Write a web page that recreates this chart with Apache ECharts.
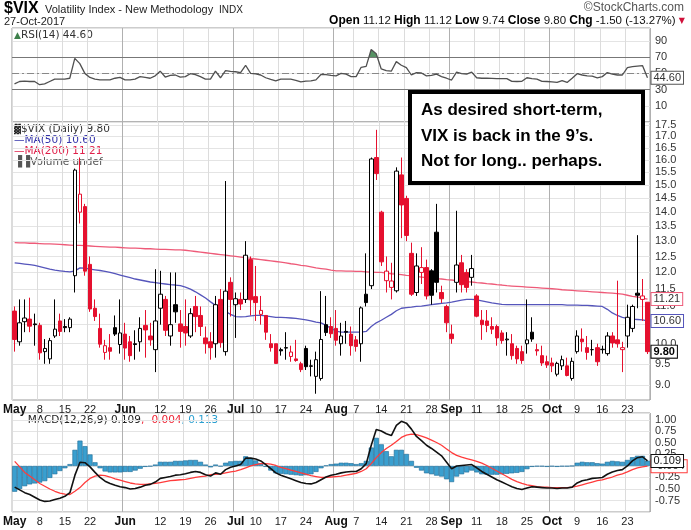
<!DOCTYPE html>
<html><head><meta charset="utf-8">
<script src="https://cdn.jsdelivr.net/npm/echarts@6/dist/echarts.min.js"></script>
<style>html,body{margin:0;padding:0;background:#fff}#c{width:691px;height:530px}</style>
</head><body><div id="c"></div>
<script>
// ---- data ----
const dates = [
 '05-01','05-02','05-03','05-04','05-05','05-08','05-09','05-10','05-11','05-12','05-15','05-16','05-17','05-18','05-19','05-22','05-23','05-24','05-25','05-26','05-30','05-31',
 '06-01','06-02','06-05','06-06','06-07','06-08','06-09','06-12','06-13','06-14','06-15','06-16','06-19','06-20','06-21','06-22','06-23','06-26','06-27','06-28','06-29','06-30',
 '07-03','07-05','07-06','07-07','07-10','07-11','07-12','07-13','07-14','07-17','07-18','07-19','07-20','07-21','07-24','07-25','07-26','07-27','07-28','07-31',
 '08-01','08-02','08-03','08-04','08-07','08-08','08-09','08-10','08-11','08-14','08-15','08-16','08-17','08-18','08-21','08-22','08-23','08-24','08-25','08-28','08-29','08-30','08-31',
 '09-01','09-05','09-06','09-07','09-08','09-11','09-12','09-13','09-14','09-15','09-18','09-19','09-20','09-21','09-22','09-25','09-26','09-27','09-28','09-29',
 '10-02','10-03','10-04','10-05','10-06','10-09','10-10','10-11','10-12','10-13','10-16','10-17','10-18','10-19','10-20','10-23','10-24','10-25','10-26','10-27'];
const opens = [10.87,10.05,10.58,10.65,10.52,10.48,9.80,9.62,10.20,10.60,
 10.45,10.42,11.90,14.00,14.20,12.25,10.95,10.40,9.78,9.90,
 10.42,9.98,10.25,10.05,10.00,10.05,10.48,10.20,9.85,10.95,
 11.20,10.20,11.05,10.52,10.45,10.20,11.00,10.75,10.15,10.05,
 10.00,11.20,9.80,11.70,11.05,11.20,11.20,12.40,11.28,10.78,
 10.75,10.00,10.00,9.85,9.90,9.68,9.62,9.50,9.88,9.45,
 9.20,9.15,10.50,10.45,10.40,10.00,10.32,10.25,10.10,10.00,
 11.35,11.60,16.10,14.00,11.75,11.55,11.45,15.40,14.50,12.60,
 11.40,12.00,12.15,12.05,13.30,11.40,11.00,10.25,11.70,12.30,
 12.00,11.85,11.30,10.62,10.60,10.45,10.45,10.28,10.10,10.00,
 9.88,9.80,10.00,10.30,9.85,9.70,9.55,9.52,9.25,9.45,
 9.45,9.15,9.80,10.12,9.90,9.85,9.90,9.85,9.75,10.20,
 10.10,9.85,10.20,10.40,11.38,11.20,11.12];
const highs = [11.00,11.20,11.20,11.25,10.80,10.55,10.12,10.15,11.20,10.80,
 10.65,10.70,15.65,16.10,14.30,12.50,11.20,10.80,10.10,10.25,
 10.75,11.20,10.55,10.20,10.35,10.70,10.90,10.55,12.10,12.05,
 11.30,12.00,12.00,10.90,11.20,10.95,11.30,11.00,10.45,10.30,
 11.30,11.50,15.16,11.85,11.40,11.40,13.00,12.50,12.20,11.30,
 10.75,10.25,10.00,9.90,10.30,9.95,10.10,9.55,9.95,9.60,
 9.80,11.44,11.30,10.70,10.90,10.55,10.60,10.45,10.20,11.00,
 12.60,16.10,17.28,14.05,12.50,12.30,15.70,16.10,14.60,12.95,
 12.60,12.80,12.40,12.10,14.30,11.60,11.05,10.50,14.05,12.55,
 12.10,12.55,11.35,10.90,10.90,10.70,10.50,10.35,10.30,10.25,
 9.95,9.95,11.20,10.70,10.00,9.95,9.70,9.65,9.55,9.70,
 9.65,9.65,10.35,10.40,10.20,10.10,10.00,9.95,10.30,10.30,
 11.75,10.05,11.05,11.05,13.20,11.80,11.12];
const lows = [9.80,9.95,10.30,10.30,9.95,9.60,9.50,9.50,10.15,10.20,
 10.30,10.30,11.40,13.60,11.90,10.85,10.60,9.90,9.60,9.60,
 10.20,9.75,9.60,9.55,9.60,9.80,9.65,9.95,9.30,10.50,
 10.20,9.95,10.55,9.90,9.95,10.15,10.30,10.20,9.75,9.60,
 9.65,9.90,9.70,10.72,10.15,10.90,11.10,10.75,10.60,10.50,
 10.10,9.80,9.50,9.70,9.60,9.55,9.55,9.30,9.35,9.20,
 8.80,9.10,10.20,10.15,9.95,9.70,10.00,9.70,9.80,9.55,
 11.00,11.50,15.20,12.20,11.40,11.20,11.40,13.10,13.00,11.30,
 11.30,11.65,11.20,11.05,11.40,11.10,10.30,10.00,11.40,11.40,
 11.40,11.60,10.70,10.10,10.30,10.25,9.95,10.00,9.70,9.60,
 9.50,9.50,9.75,10.05,9.70,9.45,9.40,9.30,9.20,9.35,
 9.20,9.10,9.75,9.80,9.60,9.70,9.45,9.75,9.70,9.90,
 9.90,9.30,9.90,10.30,10.95,10.60,9.74];
const closes = [10.11,10.55,10.68,10.46,10.50,9.77,9.88,10.08,10.38,10.32,
 10.42,10.65,15.59,14.66,12.04,10.93,10.72,9.99,9.95,9.81,
 10.25,10.28,9.89,9.70,9.98,10.40,10.36,10.10,10.60,11.35,
 10.35,10.50,10.85,10.32,10.28,10.80,10.72,10.45,10.00,9.90,
 11.05,10.03,11.44,11.20,11.22,11.07,12.54,11.19,11.11,10.89,
 10.30,9.90,9.51,9.82,9.89,9.79,9.58,9.36,9.43,9.44,
 9.60,10.11,10.29,10.26,10.09,10.20,10.30,9.95,9.93,10.96,
 11.11,16.04,15.45,12.33,12.04,11.74,15.55,14.26,13.19,11.35,
 12.20,12.15,11.30,11.32,11.70,11.22,10.55,10.13,12.23,11.63,
 11.55,12.12,10.73,10.50,10.48,10.38,10.15,10.08,10.12,9.70,
 9.62,9.58,10.10,10.12,9.82,9.52,9.47,9.45,9.51,9.60,
 9.22,9.56,10.20,10.05,9.78,9.85,9.55,9.86,10.20,10.02,
 10.00,9.90,10.70,11.00,11.32,11.30,9.80];
const closeBeforeFirst = 10.82;
const ma50 = [12.30,12.28,12.26,12.24,12.22,12.18,12.14,12.10,12.07,12.05,
 12.03,12.02,12.05,12.14,12.13,12.10,12.08,12.06,12.03,12.00,
 11.96,11.92,11.88,11.84,11.80,11.77,11.74,11.71,11.69,11.67,
 11.65,11.63,11.62,11.60,11.56,11.50,11.42,11.33,11.24,11.13,
 11.03,10.94,10.86,10.78,10.72,10.71,10.72,10.74,10.75,10.75,
 10.74,10.72,10.70,10.70,10.69,10.68,10.67,10.65,10.63,10.60,
 10.57,10.55,10.48,10.40,10.33,10.30,10.30,10.30,10.30,10.30,
 10.32,10.45,10.55,10.62,10.70,10.78,10.88,10.95,10.97,10.98,
 11.00,11.01,11.03,11.05,11.07,11.09,11.10,11.12,11.15,11.18,
 11.20,11.20,11.19,11.16,11.13,11.10,11.08,11.06,11.05,11.05,
 11.05,11.05,11.05,11.05,11.05,11.05,11.05,11.05,11.05,11.05,
 11.04,11.04,11.04,11.03,11.03,11.02,11.01,11.00,10.92,10.82,
 10.75,10.70,10.67,10.65,10.64,10.63,10.60];
const ma200 = [12.95,12.94,12.94,12.93,12.93,12.92,12.91,12.91,12.90,12.89,
 12.88,12.87,12.86,12.86,12.85,12.84,12.83,12.82,12.81,12.80,
 12.80,12.79,12.78,12.77,12.77,12.76,12.75,12.75,12.74,12.73,
 12.73,12.72,12.71,12.71,12.70,12.68,12.66,12.64,12.62,12.60,
 12.58,12.56,12.54,12.52,12.50,12.48,12.46,12.44,12.42,12.40,
 12.38,12.36,12.34,12.32,12.30,12.27,12.25,12.22,12.20,12.17,
 12.14,12.12,12.10,12.07,12.05,12.05,12.04,12.04,12.03,12.03,
 12.02,12.01,12.00,12.00,11.98,11.96,11.95,11.93,11.91,11.90,
 11.88,11.86,11.84,11.83,11.81,11.80,11.78,11.77,11.75,11.74,
 11.72,11.71,11.69,11.68,11.66,11.65,11.63,11.62,11.60,11.59,
 11.58,11.57,11.56,11.55,11.54,11.53,11.52,11.51,11.50,11.48,
 11.47,11.46,11.45,11.44,11.43,11.42,11.41,11.40,11.39,11.38,
 11.37,11.35,11.32,11.29,11.27,11.24,11.21];
const rsi = [37,40,40.5,40,40,36,37,40,43,43,
 43,44,68.5,62,50,45,43,42,42,42,
 44,45,42,42,43,46,45,44,47,52.7,
 45.5,47.6,48,45.5,46,49.6,48.5,46,43,43,
 52.7,44.6,53.5,52.5,52,51,60,50,49.5,48,
 44.6,42.5,40.7,43,43,42.8,41.5,39.6,40.5,40.7,
 42,48.6,48.5,47.6,47,50,49,46,46,57.5,
 58.6,79.4,74.3,55.5,53.5,52.7,64.5,60,57,48,
 51,50.5,47,47.5,49,46,44,41.8,51.6,49.6,
 49,51.6,44.6,44,44,43.8,43.5,43.5,43.5,40.2,
 40,40.2,44.6,43.5,42.8,40.2,40,39.5,39,41,
 38.8,44,49.6,48,47,46.5,44.4,46,51,49,
 48,48,57.2,58.3,59,59.6,44.6];
const macd = [-0.46,-0.52,-0.58,-0.62,-0.68,-0.74,-0.77,-0.76,-0.73,-0.70,
 -0.66,-0.58,-0.20,0.08,0.07,-0.02,-0.14,-0.25,-0.33,-0.38,
 -0.42,-0.45,-0.47,-0.50,-0.49,-0.46,-0.42,-0.40,-0.35,-0.27,
 -0.25,-0.23,-0.20,-0.19,-0.17,-0.14,-0.12,-0.14,-0.19,-0.22,
 -0.15,-0.18,-0.08,-0.03,0.00,0.03,0.17,0.17,0.15,0.11,
 0.03,-0.06,-0.15,-0.20,-0.24,-0.28,-0.32,-0.36,-0.38,-0.39,
 -0.36,-0.30,-0.24,-0.20,-0.18,-0.15,-0.13,-0.12,-0.12,-0.06,
 0.05,0.45,0.79,0.76,0.70,0.66,0.88,0.97,0.93,0.80,
 0.64,0.55,0.45,0.38,0.30,0.22,0.08,-0.06,0.00,0.01,
 0.02,0.03,-0.04,-0.12,-0.18,-0.24,-0.30,-0.35,-0.40,-0.45,
 -0.49,-0.51,-0.48,-0.45,-0.46,-0.47,-0.48,-0.48,-0.49,-0.48,
 -0.48,-0.46,-0.37,-0.32,-0.30,-0.27,-0.26,-0.25,-0.18,-0.13,
 -0.10,-0.08,0.00,0.11,0.18,0.20,0.109];
const signal = [0.10,-0.02,-0.14,-0.22,-0.30,-0.38,-0.44,-0.50,-0.55,-0.59,
 -0.61,-0.62,-0.55,-0.47,-0.36,-0.27,-0.22,-0.20,-0.21,-0.24,
 -0.28,-0.31,-0.34,-0.37,-0.39,-0.40,-0.40,-0.39,-0.38,-0.36,
 -0.34,-0.32,-0.31,-0.30,-0.29,-0.27,-0.25,-0.23,-0.22,-0.19,
 -0.18,-0.17,-0.15,-0.13,-0.11,-0.08,-0.04,0.00,0.03,0.05,
 0.05,0.04,0.01,-0.03,-0.06,-0.09,-0.12,-0.15,-0.18,-0.21,
 -0.23,-0.25,-0.25,-0.24,-0.23,-0.22,-0.20,-0.18,-0.16,-0.12,
 -0.06,0.05,0.18,0.29,0.38,0.45,0.53,0.62,0.67,0.69,
 0.68,0.65,0.61,0.56,0.51,0.45,0.37,0.29,0.23,0.19,
 0.16,0.13,0.10,0.06,0.01,-0.05,-0.11,-0.17,-0.23,-0.29,
 -0.34,-0.38,-0.41,-0.43,-0.45,-0.46,-0.46,-0.47,-0.47,-0.47,
 -0.47,-0.46,-0.44,-0.41,-0.38,-0.35,-0.32,-0.30,-0.27,-0.24,
 -0.20,-0.17,-0.13,-0.08,-0.04,-0.02,-0.004];
const xTickDates = ['05-01','05-08','05-15','05-22','06-01','06-12','06-19','06-26','07-03','07-10','07-17','07-24','08-01','08-07','08-14','08-21','08-28','09-01','09-11','09-18','09-25','10-02','10-09','10-16','10-23'];
const xTickLabels = ['May','8','15','22','Jun','12','19','26','Jul','10','17','24','Aug','7','14','21','28','Sep','11','18','25','Oct','9','16','23'];
const monthStarts = ['06-01','07-03','08-01','09-01','10-02'];
const priceTicks = [9.0,9.5,10.0,10.5,11.0,11.5,12.0,12.5,13.0,13.5,14.0,14.5,15.0,15.5,16.0,16.5,17.0,17.5];
const rsiOverbought = 70;

// ---- derived ----
const RED = '#e5102e';
const hist = macd.map((v,i)=>+(v - signal[i]).toFixed(3));
const candles = dates.map((d,i)=>{
  const prev = i>0 ? closes[i-1] : closeBeforeFirst;
  const col = closes[i] < prev ? RED : '#000';
  const fill = closes[i] < opens[i] ? col : '#fff';
  return {value:[opens[i],closes[i],lows[i],highs[i]],
    itemStyle:{color:fill,color0:fill,borderColor:col,borderColor0:col,borderWidth:1}};
});
const tickSet = new Set(xTickDates);
const monthSet = new Set(monthStarts);
const showTick = (idx,val)=>tickSet.has(val);
const showMonth = (idx,val)=>monthSet.has(val);
const fmtX = (val)=>{const t = xTickLabels[xTickDates.indexOf(val)]; return isNaN(+t) ? '{m|'+t+'}' : '{d|'+t+'}';};
const FONT = 'Liberation Sans';
const xLabelRich = {m:{fontWeight:'bold',fontSize:12,color:'#111',fontFamily:FONT},d:{fontSize:11,color:'#222',fontFamily:FONT}};
function xAxisFor(g, showLabels){
  return {type:'category', gridIndex:g, data:dates, boundaryGap:true,
    axisLine:{show:false}, axisTick:{show:false},
    axisLabel:{show:showLabels, interval:showTick, formatter:fmtX, rich:xLabelRich, margin:4},
    splitLine:{show:true, interval:showTick, lineStyle:{color:'#dcdcdc',width:1}}};
}
function monthAxisFor(g){
  return {type:'category', gridIndex:g, data:dates, boundaryGap:true, position:'top',
    axisLine:{show:false}, axisTick:{show:false}, axisLabel:{show:false},
    splitLine:{show:true, interval:showMonth, lineStyle:{color:'#b0b0b0',width:1}}};
}
const tag = (border, color, bold, digits)=>({show:true, distance:4, formatter:p=>(+p.value).toFixed(digits),
  color:color, fontSize:11, fontFamily:FONT, fontWeight:bold?'bold':'normal', backgroundColor:'#fff', borderColor:border, borderWidth:1, padding:[1,2,0,2]});

// green fill where RSI is above the overbought line, drawn through the axis scales
function renderRsiFill(params, api){
  const lvl = rsiOverbought;
  const yL = api.coord([0, lvl])[1];
  const shapes = [];
  let pts = null;
  for (let i=0;i<rsi.length;i++){
    const p = api.coord([i, rsi[i]]);
    if (rsi[i] > lvl){
      if (!pts){
        pts = [];
        if (i>0){
          const q = api.coord([i-1, rsi[i-1]]);
          const t = (lvl - rsi[i-1])/(rsi[i]-rsi[i-1]);
          pts.push([q[0]+t*(p[0]-q[0]), yL]);
        } else pts.push([p[0], yL]);
      }
      pts.push(p);
    } else if (pts){
      const q = api.coord([i-1, rsi[i-1]]);
      const t = (lvl - rsi[i-1])/(rsi[i]-rsi[i-1]);
      pts.push([q[0]+t*(p[0]-q[0]), yL]);
      shapes.push({type:'polygon', shape:{points:pts}, style:{fill:'#4e8c5c', opacity:0.95}});
      pts = null;
    }
  }
  return {type:'group', children:shapes};
}

const chart = echarts.init(document.getElementById('c'), null, {renderer:'canvas'});
chart.setOption({
  animation:false,
  backgroundColor:'#fff',
  textStyle:{fontFamily:FONT},
  grid:[
    {left:12, right:41, top:28, height:94, show:true, borderColor:'#9a9a9a', borderWidth:1, backgroundColor:'#fff'},
    {left:12, right:41, top:122, height:278, show:true, borderColor:'#9a9a9a', borderWidth:1, backgroundColor:'#fff'},
    {left:12, right:41, top:413, height:99, show:true, borderColor:'#9a9a9a', borderWidth:1, backgroundColor:'#fff'}
  ],
  xAxis:[xAxisFor(0,false), xAxisFor(1,true), xAxisFor(2,true), monthAxisFor(0), monthAxisFor(1), monthAxisFor(2)],
  yAxis:[
    {type:'value', gridIndex:0, position:'right', min:-10, max:106, interval:20,
      axisLine:{show:false}, axisTick:{show:false},
      axisLabel:{showMinLabel:false, showMaxLabel:false, margin:5, fontSize:11, color:'#333', fontFamily:FONT},
      splitLine:{lineStyle:{color:'#e4e4e4'}}},
    {type:'log', gridIndex:1, position:'right', logBase:10, min:8.66, max:17.63,
      axisLine:{show:false}, axisTick:{show:false, customValues:priceTicks},
      axisLabel:{customValues:priceTicks, formatter:v=>(+v).toFixed(1), margin:5, fontSize:11, color:'#333', fontFamily:FONT},
      splitLine:{show:true, lineStyle:{color:'#e4e4e4'}}},
    {type:'value', gridIndex:2, position:'right', min:-1, max:1.15, interval:0.25,
      axisLine:{show:false}, axisTick:{show:false},
      axisLabel:{showMinLabel:false, showMaxLabel:false, formatter:v=>(+v).toFixed(2), margin:5, fontSize:11, color:'#333', fontFamily:FONT},
      splitLine:{lineStyle:{color:'#e4e4e4'}}}
  ],
  series:[
    {name:'RSI', type:'line', xAxisIndex:0, yAxisIndex:0, data:rsi, symbol:'none', z:5,
      lineStyle:{color:'#505050', width:1.3}, itemStyle:{color:'#505050'},
      endLabel:tag('#555','#333',false,2),
      markLine:{silent:true, symbol:['none','none'], label:{show:false}, animation:false, data:[
        {yAxis:70, lineStyle:{color:'#777',width:1.2,type:'solid'}},
        {yAxis:30, lineStyle:{color:'#777',width:1.2,type:'solid'}},
        {yAxis:50, lineStyle:{color:'#888',width:1,type:[7,3,2,3]}}]}},
    {name:'RSIfill', type:'custom', xAxisIndex:0, yAxisIndex:0, data:[[0,70]], z:3, silent:true,
      renderItem:renderRsiFill},
    {name:'MA200', type:'line', xAxisIndex:1, yAxisIndex:1, data:ma200, symbol:'none', z:3,
      lineStyle:{color:'#ee5a78', width:1.3}, itemStyle:{color:'#ee5a78'},
      endLabel:tag('#ee5a78','#333',false,2)},
    {name:'VIX', type:'candlestick', xAxisIndex:1, yAxisIndex:1, data:candles, barWidth:4, z:4},
    {name:'MA50', type:'line', xAxisIndex:1, yAxisIndex:1, data:ma50, symbol:'none', z:3,
      lineStyle:{color:'#5555bb', width:1.3}, itemStyle:{color:'#5555bb'},
      endLabel:tag('#5555bb','#333',false,2)},
    {name:'Close', type:'line', xAxisIndex:1, yAxisIndex:1, data:closes, symbol:'none', z:2,
      lineStyle:{opacity:0, width:0}, itemStyle:{color:'#000'},
      endLabel:tag('#000','#000',true,2)},
    {name:'Hist', type:'bar', xAxisIndex:2, yAxisIndex:2, data:hist, barCategoryGap:'0%', z:2,
      itemStyle:{color:'#3a9fcf', borderColor:'#1d6a95', borderWidth:0.6}},
    {name:'Signal', type:'line', xAxisIndex:2, yAxisIndex:2, data:signal, symbol:'none', z:4,
      lineStyle:{color:'#ff3b3b', width:1.3}, itemStyle:{color:'#ff3b3b'},
      endLabel:tag('#ff3b3b','#333',false,3)},
    {name:'MACD', type:'line', xAxisIndex:2, yAxisIndex:2, data:macd, symbol:'none', z:5,
      lineStyle:{color:'#111', width:1.6}, itemStyle:{color:'#111'},
      endLabel:tag('#111','#111',false,3)}
  ],
  graphic:[
    {type:'text', left:4, top:1, style:{text:'$VIX', font:'bold 16px "Liberation Sans"', fill:'#000'}},
    {type:'text', left:45, top:4, style:{text:'Volatility Index - New Methodology', font:'11px "Liberation Sans"', fill:'#222'}},
    {type:'text', left:219, top:5, style:{text:'INDX', font:'10px "Liberation Sans"', fill:'#222'}},
    {type:'text', left:4, top:16, style:{text:'27-Oct-2017', font:'11px "Liberation Sans"', fill:'#222'}},
    {type:'text', right:7, top:2, style:{text:'\u00A9StockCharts.com', font:'12px "Liberation Sans"', fill:'#555'}},
    {type:'text', right:6, top:15, style:{
      text:'{b|Open} 11.12 {b|High} 11.12 {b|Low} 9.74 {b|Close} 9.80 {b|Chg} -1.50 (-13.27%) {r|\u25BC}',
      font:'11.5px "Liberation Sans"', fill:'#111',
      rich:{b:{fontWeight:'bold', fontSize:12, fontFamily:FONT, fill:'#000'}, r:{fill:'#d0103a', fontSize:8, fontFamily:'DejaVu Sans'}}}},
    {type:'text', left:14, top:30, style:{text:'{g|\u25B2}RSI(14) 44.60', font:'10.5px "DejaVu Sans"', fill:'#333',
      rich:{g:{fill:'#3d7f4a', fontSize:9, fontFamily:'DejaVu Sans'}}}},
    {type:'text', left:14, top:124, style:{
      text:'{k|\u2593}$VIX (Daily) 9.80\n{bl|\u2014MA(50) 10.60}\n{rd|\u2014MA(200) 11.21}\n{gy|\u2590\u2590Volume undef}',
      font:'10.5px "DejaVu Sans"', fill:'#333', lineHeight:10.8,
      rich:{k:{fill:'#222',fontSize:9,fontFamily:'DejaVu Sans'}, bl:{fill:'#3333aa',fontSize:10.5,fontFamily:'DejaVu Sans',lineHeight:10.8},
        rd:{fill:'#e0204a',fontSize:10.5,fontFamily:'DejaVu Sans',lineHeight:10.8}, gy:{fill:'#555',fontSize:10.5,fontFamily:'DejaVu Sans',lineHeight:10.8}}}},
    {type:'text', left:14, top:415, style:{
      text:'{k|\u2014 MACD(12,26,9) 0.109}{r|, -0.004}{b|, 0.113}',
      font:'10.5px "DejaVu Sans"',
      rich:{k:{fill:'#222',fontFamily:'DejaVu Sans',fontSize:10.5}, r:{fill:'#ee2233',fontFamily:'DejaVu Sans',fontSize:10.5}, b:{fill:'#2a9fd0',fontFamily:'DejaVu Sans',fontSize:10.5}}}},
    {type:'group', z:100, children:[
      {type:'rect', shape:{x:410, y:92, width:233, height:91}, style:{fill:'#fff', stroke:'#000', lineWidth:4}, z:100},
      {type:'text', left:421, top:98, z:101, style:{
        text:'As desired short-term,\nVIX is back in the 9\u2019s.\nNot for long.. perhaps.',
        font:'bold 17px "Liberation Sans"', fill:'#000', lineHeight:25.5}}
    ]}
  ]
});
</script></body></html>
